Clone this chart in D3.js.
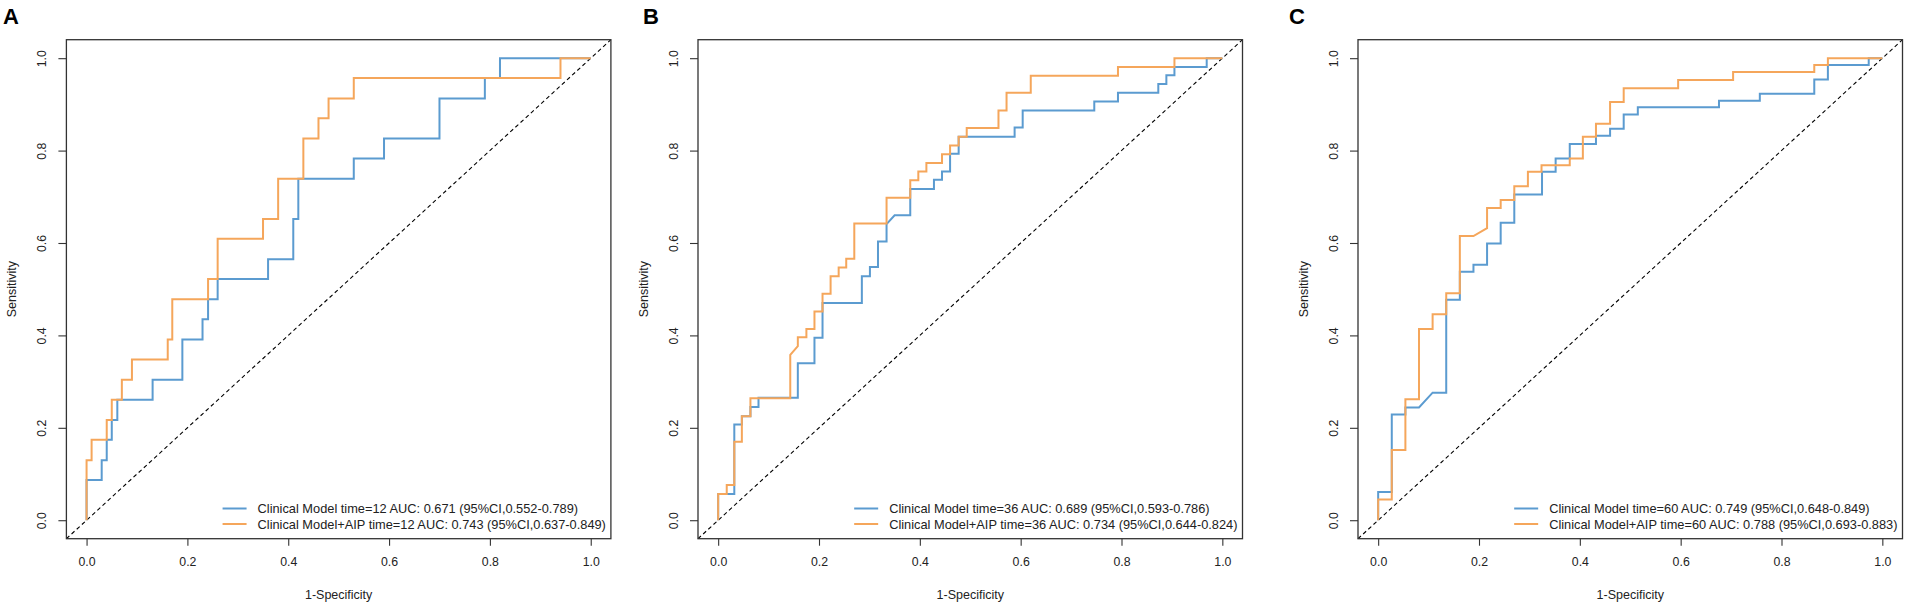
<!DOCTYPE html>
<html>
<head>
<meta charset="utf-8">
<script src="https://cdn.jsdelivr.net/npm/d3@7"></script>
<style>
  html, body { margin: 0; padding: 0; background: #fff; }
  svg { display: block; font-family: "Liberation Sans", Arial, sans-serif; }
</style>
</head>
<body>
<svg id="chart" width="1908" height="604"></svg>
<script>
// data: ROC points [1-specificity, sensitivity]
const rocA_clin = [[0,0],[0,0.087],[0.03,0.087],[0.03,0.130],[0.04,0.130],[0.04,0.174],[0.05,0.174],[0.05,0.217],
  [0.061,0.217],[0.061,0.261],[0.131,0.261],[0.131,0.304],[0.19,0.304],[0.19,0.391],[0.23,0.391],[0.23,0.435],
  [0.241,0.435],[0.241,0.478],[0.26,0.478],[0.26,0.522],[0.36,0.522],[0.36,0.565],[0.41,0.565],[0.41,0.652],
  [0.42,0.652],[0.42,0.739],[0.53,0.739],[0.53,0.783],[0.59,0.783],[0.59,0.826],[0.70,0.826],[0.70,0.913],
  [0.79,0.913],[0.79,0.957],[0.82,0.957],[0.82,1],[1,1]];
const rocA_aip = [[0,0],[0,0.130],[0.01,0.130],[0.01,0.174],[0.04,0.174],[0.04,0.217],[0.05,0.217],[0.05,0.261],
  [0.07,0.261],[0.07,0.304],[0.09,0.304],[0.09,0.348],[0.161,0.348],[0.161,0.391],[0.17,0.391],[0.17,0.478],
  [0.241,0.478],[0.241,0.522],[0.26,0.522],[0.26,0.609],[0.35,0.609],[0.35,0.652],[0.38,0.652],[0.38,0.739],
  [0.43,0.739],[0.43,0.826],[0.46,0.826],[0.46,0.870],[0.48,0.870],[0.48,0.913],[0.53,0.913],[0.53,0.957],
  [0.94,0.957],[0.94,1],[1,1]];

const rocB_clin = [[0,0],[0,0.057],[0.032,0.057],[0.032,0.207],[0.047,0.207],[0.047,0.225],[0.064,0.225],[0.064,0.245],
  [0.08,0.245],[0.08,0.265],[0.158,0.265],[0.158,0.34],[0.191,0.34],[0.191,0.395],[0.207,0.395],[0.207,0.47],
  [0.285,0.47],[0.285,0.528],[0.301,0.528],[0.301,0.548],[0.317,0.548],[0.317,0.603],[0.334,0.603],[0.334,0.641],
  [0.35,0.66],[0.381,0.66],[0.381,0.717],[0.428,0.717],[0.428,0.737],[0.444,0.737],[0.444,0.755],[0.46,0.755],
  [0.46,0.793],[0.477,0.793],[0.477,0.830],[0.588,0.830],[0.588,0.85],[0.604,0.85],[0.604,0.887],[0.746,0.887],
  [0.746,0.906],[0.793,0.906],[0.793,0.925],[0.873,0.925],[0.873,0.944],[0.889,0.944],[0.889,0.963],[0.905,0.963],
  [0.905,0.981],[0.969,0.981],[0.969,1],[1,1]];
const rocB_aip = [[0,0],[0,0.057],[0.017,0.057],[0.017,0.076],[0.032,0.076],[0.032,0.17],[0.047,0.17],[0.047,0.225],
  [0.064,0.225],[0.064,0.264],[0.143,0.264],[0.143,0.358],[0.158,0.377],[0.158,0.396],[0.175,0.396],[0.175,0.414],
  [0.191,0.414],[0.191,0.452],[0.207,0.452],[0.207,0.49],[0.223,0.49],[0.223,0.528],[0.239,0.528],[0.239,0.547],
  [0.254,0.547],[0.254,0.566],[0.27,0.566],[0.27,0.642],[0.334,0.642],[0.334,0.698],[0.381,0.698],[0.381,0.736],
  [0.397,0.736],[0.397,0.755],[0.413,0.755],[0.413,0.773],[0.444,0.773],[0.444,0.792],[0.46,0.792],[0.46,0.811],
  [0.477,0.811],[0.477,0.830],[0.493,0.830],[0.493,0.849],[0.556,0.849],[0.556,0.887],[0.572,0.887],[0.572,0.925],
  [0.62,0.925],[0.62,0.962],[0.793,0.962],[0.793,0.981],[0.905,0.981],[0.905,1],[1,1]];

const rocC_clin = [[0,0],[0,0.061],[0.027,0.061],[0.027,0.229],[0.054,0.229],[0.054,0.244],[0.081,0.244],[0.108,0.276],
  [0.135,0.276],[0.135,0.477],[0.162,0.477],[0.162,0.538],[0.189,0.538],[0.189,0.553],[0.216,0.553],[0.216,0.599],
  [0.243,0.599],[0.243,0.644],[0.27,0.644],[0.27,0.705],[0.325,0.705],[0.325,0.754],[0.352,0.754],[0.352,0.783],
  [0.38,0.783],[0.38,0.814],[0.432,0.814],[0.432,0.832],[0.46,0.832],[0.46,0.847],[0.487,0.847],[0.487,0.878],
  [0.515,0.878],[0.515,0.894],[0.676,0.894],[0.676,0.908],[0.757,0.908],[0.757,0.923],[0.865,0.923],[0.865,0.954],
  [0.892,0.954],[0.892,0.985],[0.973,0.985],[0.973,1],[1,1]];
const rocC_aip = [[0,0],[0,0.045],[0.027,0.045],[0.027,0.152],[0.054,0.152],[0.054,0.262],[0.081,0.262],[0.081,0.414],
  [0.108,0.414],[0.108,0.446],[0.135,0.446],[0.135,0.491],[0.162,0.491],[0.162,0.615],[0.189,0.615],[0.216,0.632],
  [0.216,0.676],[0.243,0.676],[0.243,0.693],[0.27,0.693],[0.27,0.723],[0.297,0.723],[0.297,0.754],[0.324,0.754],
  [0.324,0.768],[0.38,0.768],[0.38,0.783],[0.406,0.783],[0.406,0.83],[0.432,0.83],[0.432,0.858],[0.46,0.858],
  [0.46,0.905],[0.487,0.905],[0.487,0.935],[0.595,0.935],[0.595,0.953],[0.704,0.953],[0.704,0.97],[0.865,0.97],
  [0.865,0.985],[0.892,0.985],[0.892,1],[1,1]];

const panelLabels = ["A", "B", "C"];
const times = [12, 36, 60];
const aucClin = ["0.671", "0.689", "0.749"];
const ciClin = [["0.552", "0.789"], ["0.593", "0.786"], ["0.648", "0.849"]];
const aucAip = ["0.743", "0.734", "0.788"];
const ciAip = [["0.637", "0.849"], ["0.644", "0.824"], ["0.693", "0.883"]];
const tickVals = [0, 0.2, 0.4, 0.6, 0.8, 1.0];

const rocs = [[rocA_clin, rocA_aip], [rocB_clin, rocB_aip], [rocC_clin, rocC_aip]];
const colClin = "#5b9bd0", colAip = "#f5a65b";

// layout of the three panels (plot box edges, letter position)
const boxLeft = [66.4, 698, 1358];
const letterX = [3, 643, 1289];
const boxW = 544.5;
const boxTop = 39.7, boxBottom = 538.7;

const svg = d3.select("#chart");
const y = d3.scaleLinear().domain([-0.04, 1.04]).range([boxBottom, boxTop]);

panelLabels.forEach(function(lab, p){
  const L = boxLeft[p], R = L + boxW;
  const x = d3.scaleLinear().domain([-0.04, 1.04]).range([L, R]);
  const g = svg.append("g");

  // panel letter
  g.append("text").attr("x", letterX[p]).attr("y", 24)
    .attr("font-size", 22).attr("font-weight", "bold").attr("fill", "#000").text(lab);

  // diagonal reference
  g.append("line")
    .attr("x1", x(-0.04)).attr("y1", y(-0.04)).attr("x2", x(1.04)).attr("y2", y(1.04))
    .attr("stroke", "#000").attr("stroke-width", 1.1).attr("stroke-dasharray", "4,3");

  const line = d3.line().x(d => x(d[0])).y(d => y(d[1]));
  g.append("path").datum(rocs[p][0]).attr("d", line)
    .attr("fill", "none").attr("stroke", colClin).attr("stroke-width", 2);
  g.append("path").datum(rocs[p][1]).attr("d", line)
    .attr("fill", "none").attr("stroke", colAip).attr("stroke-width", 2);

  // box
  g.append("rect").attr("x", L).attr("y", boxTop).attr("width", boxW).attr("height", boxBottom - boxTop)
    .attr("fill", "none").attr("stroke", "#333").attr("stroke-width", 1.3);

  // x axis
  const xa = g.append("g").attr("transform", "translate(0," + boxBottom + ")")
    .call(d3.axisBottom(x).tickValues(tickVals).tickFormat(d3.format(".1f")).tickSize(7).tickPadding(12));
  xa.select(".domain").remove();
  xa.selectAll("line").attr("stroke", "#333").attr("stroke-width", 1.1);
  xa.selectAll("text").attr("font-size", 12.3).attr("fill", "#222").attr("font-family", null);

  // y axis, labels parallel to axis like R
  const ya = g.append("g").attr("transform", "translate(" + L + ",0)")
    .call(d3.axisLeft(y).tickValues(tickVals).tickFormat(d3.format(".1f")).tickSize(8));
  ya.select(".domain").remove();
  ya.selectAll("line").attr("stroke", "#333").attr("stroke-width", 1.1);
  ya.selectAll("text").attr("font-size", 12.3).attr("fill", "#222").attr("font-family", null)
    .attr("x", 0).attr("dy", null).attr("text-anchor", "middle").attr("dominant-baseline", "central")
    .attr("transform", "translate(-24,0) rotate(-90)");

  // axis titles
  g.append("text").attr("x", (x(0) + x(1)) / 2).attr("y", 599).attr("text-anchor", "middle")
    .attr("font-size", 12.5).attr("fill", "#222").text("1-Specificity");
  g.append("text").attr("transform", "translate(" + (L - 50) + "," + y(0.5) + ") rotate(-90)")
    .attr("text-anchor", "middle").attr("font-size", 12.5).attr("fill", "#222").text("Sensitivity");

  // legend, bottom right without frame
  const items = [
    {t: "Clinical Model time=" + times[p] + " AUC: " + aucClin[p] + " (95%CI," + ciClin[p][0] + "-" + ciClin[p][1] + ")", c: colClin},
    {t: "Clinical Model+AIP time=" + times[p] + " AUC: " + aucAip[p] + " (95%CI," + ciAip[p][0] + "-" + ciAip[p][1] + ")", c: colAip}
  ];
  const rowY = [508.5, 524];
  const texts = items.map((it, i) => g.append("text").attr("y", rowY[i]).attr("dominant-baseline", "central")
    .attr("font-size", 12.8).attr("fill", "#222").text(it.t));
  const maxW = d3.max(texts, t => t.node().getComputedTextLength());
  const tx = R - 5 - maxW;
  texts.forEach(t => t.attr("x", tx));
  items.forEach((it, i) => {
    g.append("line").attr("x1", tx - 35).attr("x2", tx - 11).attr("y1", rowY[i]).attr("y2", rowY[i])
      .attr("stroke", it.c).attr("stroke-width", 2);
  });
});
</script>
</body>
</html>
